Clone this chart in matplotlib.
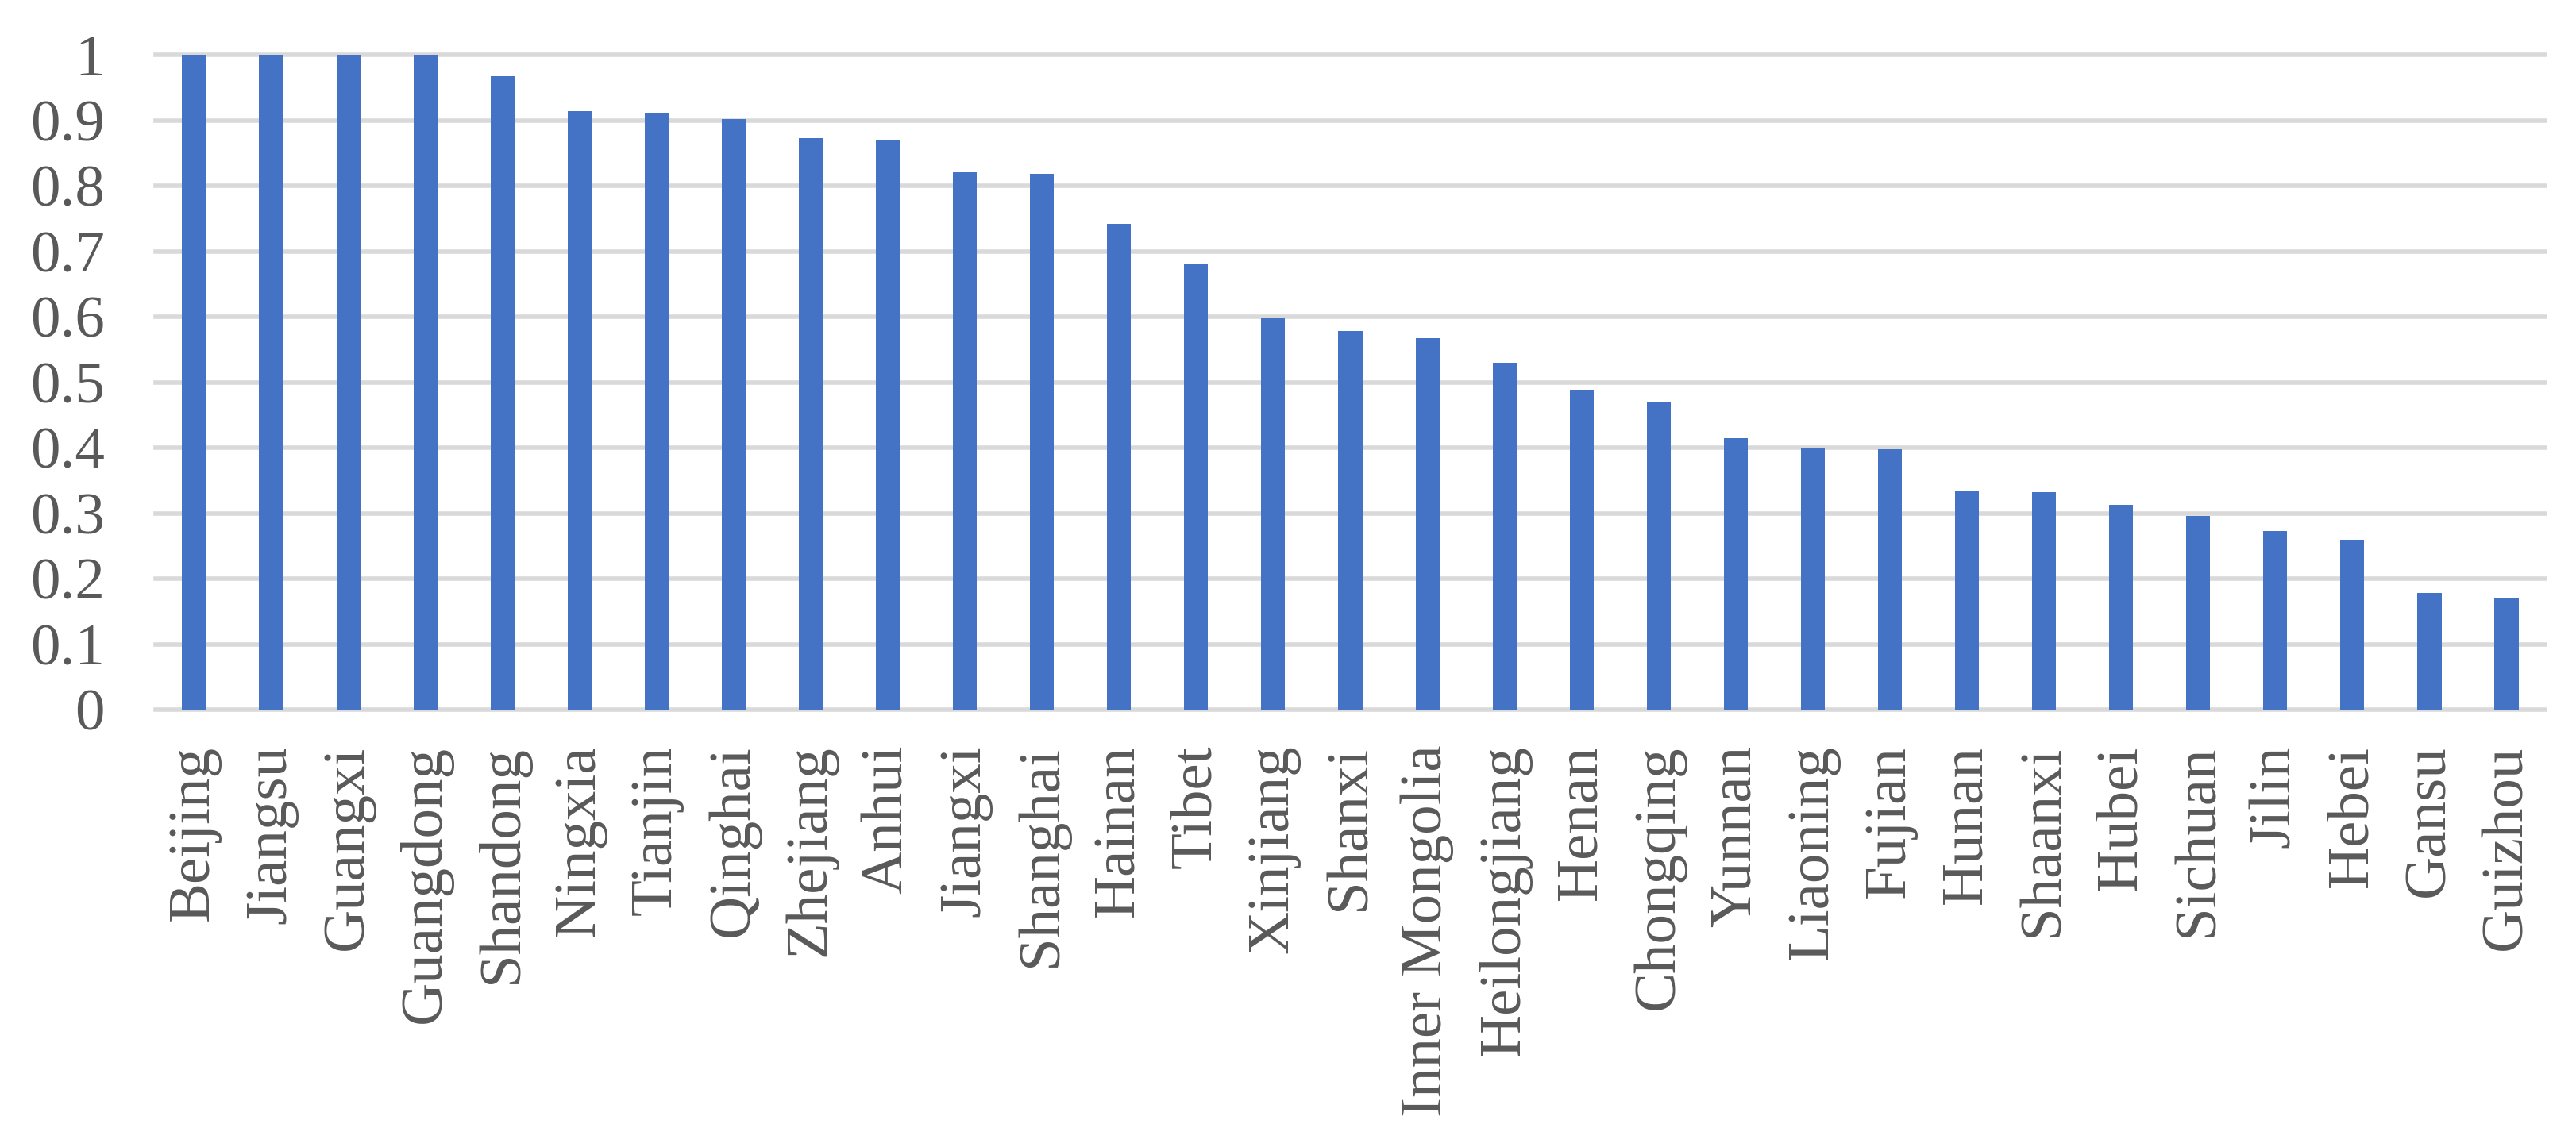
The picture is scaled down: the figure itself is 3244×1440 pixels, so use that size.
import numpy as np
import matplotlib
matplotlib.use('Agg')
import matplotlib.pyplot as plt

provinces = ['Beijing', 'Jiangsu', 'Guangxi', 'Guangdong', 'Shandong', 'Ningxia',
             'Tianjin', 'Qinghai', 'Zhejiang', 'Anhui', 'Jiangxi', 'Shanghai',
             'Hainan', 'Tibet', 'Xinjiang', 'Shanxi', 'Inner Mongolia',
             'Heilongjiang', 'Henan', 'Chongqing', 'Yunnan', 'Liaoning', 'Fujian',
             'Hunan', 'Shaanxi', 'Hubei', 'Sichuan', 'Jilin', 'Hebei', 'Gansu',
             'Guizhou']
scores = [1.0, 1.0, 1.0, 1.0, 0.968, 0.914, 0.912, 0.902, 0.873, 0.871,
          0.821, 0.818, 0.742, 0.680, 0.599, 0.578, 0.567, 0.530, 0.489,
          0.471, 0.415, 0.399, 0.398, 0.334, 0.332, 0.313, 0.296, 0.273,
          0.260, 0.179, 0.171]
yticks = [0, 0.1, 0.2, 0.3, 0.4, 0.5, 0.6, 0.7, 0.8, 0.9, 1]
ytick_labels = ['0', '0.1', '0.2', '0.3', '0.4', '0.5', '0.6', '0.7', '0.8', '0.9', '1']

plt.rcParams['font.family'] = ['Liberation Serif', 'DejaVu Serif']
text_col = '#595959'

fig = plt.figure(figsize=(16.22, 7.2), dpi=200)
ax = fig.add_axes([0.0604, 0.379, 0.9276, 0.573])

x = np.arange(len(provinces))
ax.bar(x, scores, width=0.31, color='#4472C4', zorder=3)

ax.set_xlim(-0.5, len(provinces) - 0.5)
ax.set_ylim(0, 1)
ax.set_yticks(yticks)
ax.set_yticklabels(ytick_labels)
ax.set_xticks(x)
ax.set_xticklabels(provinces, rotation=90, va='top', ha='center')

# light grey horizontal grid, no spines
ax.yaxis.grid(True, color='#D9D9D9', linewidth=2.0, zorder=0)
ax.set_axisbelow(True)
for s in ax.spines.values():
    s.set_visible(False)
ax.tick_params(axis='y', length=0, pad=23, labelsize=27, colors=text_col)
ax.tick_params(axis='x', length=0, pad=16, labelsize=27, colors=text_col)
for gl in ax.get_ygridlines():
    gl.set_clip_on(False)

fig.savefig('out.png', dpi=200)
